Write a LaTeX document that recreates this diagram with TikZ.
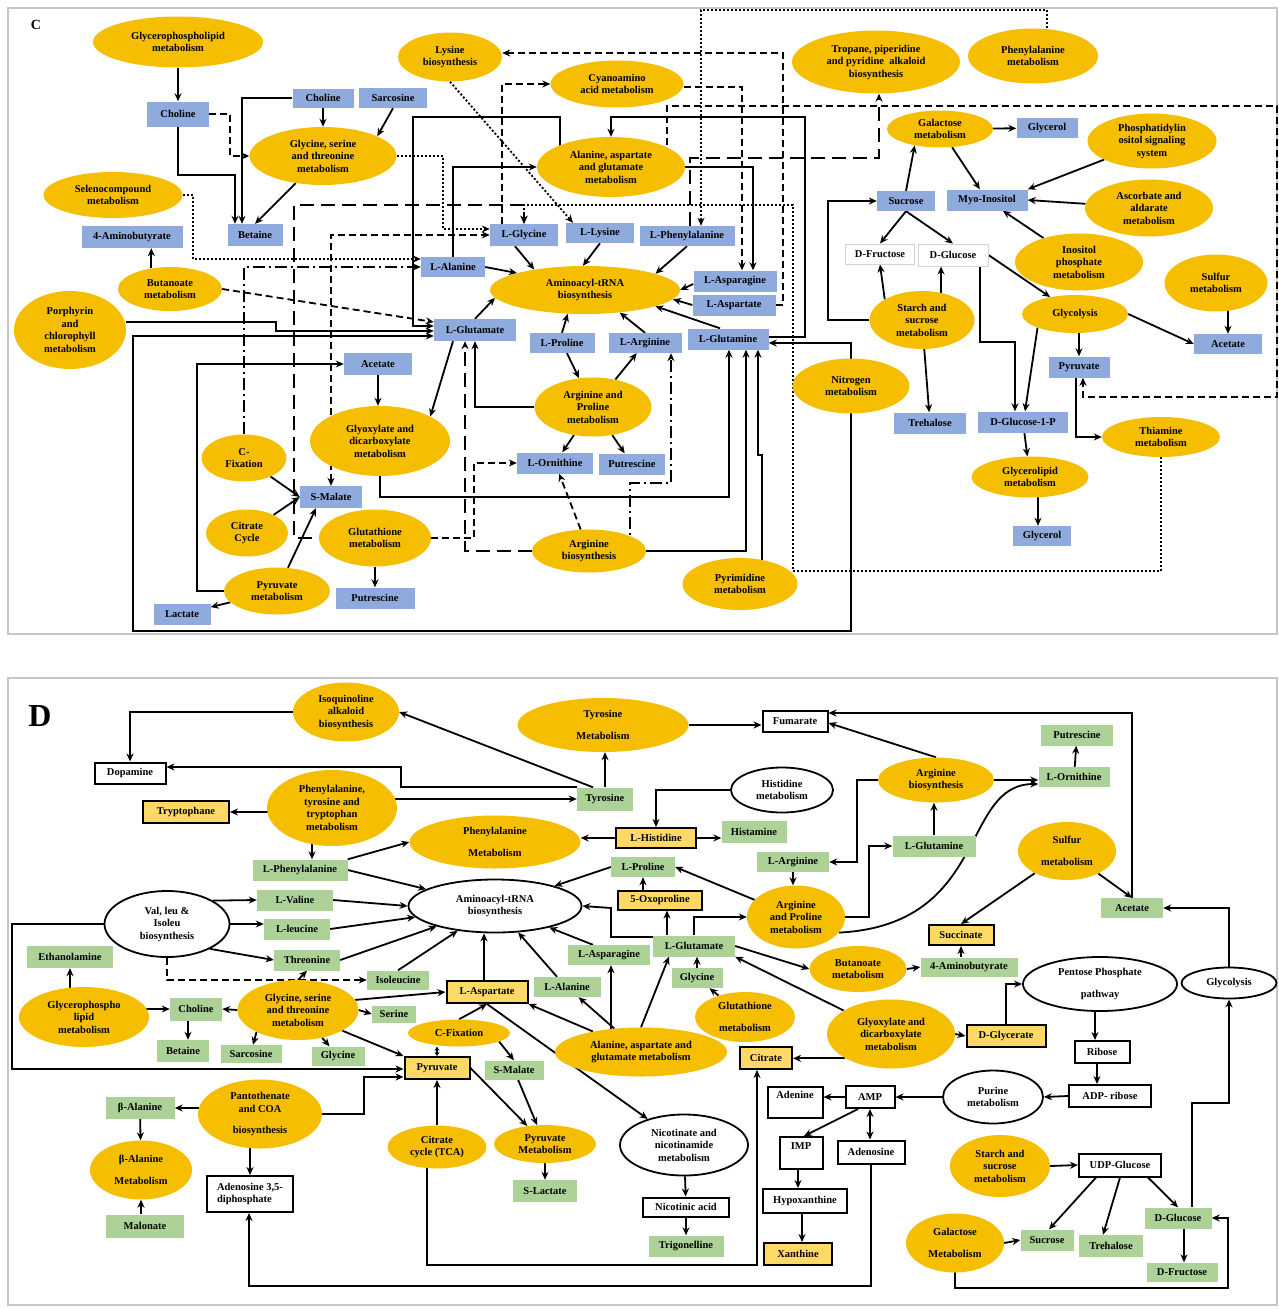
\documentclass[tikz,border=0pt]{standalone}
\usepackage{fontspec}
\setmainfont{Liberation Serif}
\usetikzlibrary{shapes.geometric,arrows.meta}
\pgfdeclarelayer{edges}
\pgfsetlayers{edges,main}
\definecolor{metyel}{RGB}{246,190,0}
\definecolor{cpdblue}{RGB}{143,170,220}
\definecolor{cpdgrn}{RGB}{172,210,152}
\definecolor{cpdyel}{RGB}{255,217,102}
\begin{document}
\begin{tikzpicture}[x=1pt,y=-1pt,
  font=\fontsize{10.5}{12.5}\selectfont\bfseries,
  >={Stealth[length=8pt,width=7pt]},
  sz/.style 2 args={minimum width=#1,minimum height=#2},
  met/.style={ellipse,fill=metyel,inner sep=0pt,align=center},
  wmet/.style={ellipse,draw,line width=1.8pt,fill=white,inner sep=0pt,align=center},
  bbox/.style={rectangle,fill=cpdblue,inner sep=0pt,align=center},
  wbbox/.style={rectangle,draw=gray!35,line width=1pt,fill=white,inner sep=0pt},
  gbox/.style={rectangle,fill=cpdgrn,inner sep=0pt,align=center},
  ybox/.style={rectangle,draw,line width=2pt,fill=cpdyel,inner sep=0pt,align=center},
  wbox/.style={rectangle,draw,line width=2pt,fill=white,inner sep=0pt,align=center},
  dsh/.style={dash pattern=on 7pt off 4pt},
  ldsh/.style={dash pattern=on 14pt off 7pt},
  dshdot/.style={dash pattern=on 12pt off 4pt on 2pt off 4pt},
  dtt/.style={dash pattern=on 2pt off 2pt},
  tinytips/.style={{Stealth[length=4pt,width=5pt]}-{Stealth[length=4pt,width=5pt]}}]
  \useasboundingbox (0,0) rectangle (1279,1309);
  % C 图
  \node[font=\fontsize{14}{14}\selectfont\bfseries] (labc) at (36,25) {C};
  \node[met,sz={170}{51}] (gplc) at (178,42) {Glycerophospholipid\\metabolism};
  \node[met,sz={104}{49}] (lysc) at (450,57) {Lysine\\biosynthesis};
  \node[met,sz={133}{47}] (cyac) at (617,84) {Cyanoamino\\acid metabolism};
  \node[met,sz={147}{58}] (gstc) at (323,156) {Glycine, serine\\and threonine\\metabolism};
  \node[met,sz={148}{60}] (aagc) at (611,167) {Alanine, aspartate\\and glutamate\\metabolism};
  \node[met,sz={168}{63}] (tropc) at (876,62) {Tropane, piperidine\\and pyridine\ \ alkaloid\\biosynthesis};
  \node[met,sz={130}{55}] (phemc) at (1033,56) {Phenylalanine\\metabolism};
  \node[met,sz={106}{37}] (galc) at (940,129) {Galactose\\metabolism};
  \node[met,sz={129}{55}] (pisc) at (1152,141) {Phosphatidylin\\ositol signaling\\system};
  \node[met,sz={128}{57}] (ascc) at (1149,208) {Ascorbate and\\aldarate\\metabolism};
  \node[met,sz={128}{57}] (inoc) at (1079,262) {Inositol\\phosphate\\metabolism};
  \node[met,sz={103}{57}] (sulc) at (1216,283) {Sulfur\\metabolism};
  \node[met,sz={139}{46}] (selc) at (113,195) {Selenocompound\\metabolism};
  \node[met,sz={104}{44}] (butc) at (170,289) {Butanoate\\metabolism};
  \node[met,sz={112}{78}] (porc) at (70,330) {Porphyrin\\and\\chlorophyll\\metabolism};
  \node[met,sz={190}{48}] (trnac) at (585,290) {Aminoacyl-tRNA\\biosynthesis};
  \node[met,sz={105}{58}] (starc) at (922,320) {Starch and\\sucrose\\metabolism};
  \node[met,sz={106}{38}] (glyc) at (1075,314) {Glycolysis};
  \node[met,sz={117}{55}] (nitc) at (851,386) {Nitrogen\\metabolism};
  \node[met,sz={118}{40}] (thic) at (1161,437) {Thiamine\\metabolism};
  \node[met,sz={117}{41}] (glpc) at (1030,477) {Glycerolipid\\metabolism};
  \node[met,sz={117}{59}] (argpc) at (593,407) {Arginine and\\Proline\\metabolism};
  \node[met,sz={140}{70}] (glxc) at (380,441) {Glyoxylate and\\dicarboxylate\\metabolism};
  \node[met,sz={85}{47}] (cfixc) at (244,458) {C-\\Fixation};
  \node[met,sz={82}{47}] (citc) at (247,533) {Citrate\\Cycle};
  \node[met,sz={112}{57}] (gshc) at (375,538) {Glutathione\\metabolism};
  \node[met,sz={106}{47}] (pyrmc) at (277,591) {Pyruvate\\metabolism};
  \node[met,sz={114}{43}] (argbc) at (589,551) {Arginine\\biosynthesis};
  \node[met,sz={115}{52}] (pymc) at (740,584) {Pyrimidine\\metabolism};
  \node[bbox,sz={62}{25}] (cho1c) at (178,114) {Choline};
  \node[bbox,sz={61}{19}] (cho2c) at (323,98) {Choline};
  \node[bbox,sz={68}{20}] (sarc) at (393,98) {Sarcosine};
  \node[bbox,sz={55}{22}] (betc) at (255,235) {Betaine};
  \node[bbox,sz={101}{22}] (gabac) at (132,237) {4-Aminobutyrate};
  \node[bbox,sz={68}{22}] (lglyc) at (524,235) {L-Glycine};
  \node[bbox,sz={68}{20}] (llysc) at (600,233) {L-Lysine};
  \node[bbox,sz={95}{20}] (lphec) at (687,236) {L-Phenylalanine};
  \node[bbox,sz={64}{20}] (lalac) at (453,267) {L-Alanine};
  \node[bbox,sz={83}{21}] (lasnc) at (735,281) {L-Asparagine};
  \node[bbox,sz={83}{21}] (laspc) at (734,305) {L-Aspartate};
  \node[bbox,sz={82}{22}] (lgluc) at (475,330) {L-Glutamate};
  \node[bbox,sz={65}{20}] (lproc) at (562,343) {L-Proline};
  \node[bbox,sz={73}{20}] (largc) at (645,343) {L-Arginine};
  \node[bbox,sz={81}{21}] (lglnc) at (728,339) {L-Glutamine};
  \node[bbox,sz={68}{22}] (acec) at (378,364) {Acetate};
  \node[bbox,sz={62}{22}] (malc) at (331,497) {S-Malate};
  \node[bbox,sz={79}{21}] (putc) at (375,598) {Putrescine};
  \node[bbox,sz={57}{21}] (lacc) at (182,614) {Lactate};
  \node[bbox,sz={76}{21}] (lornc) at (555,463) {L-Ornithine};
  \node[bbox,sz={66}{21}] (put2c) at (632,464) {Putrescine};
  \node[bbox,sz={61}{20}] (glol1c) at (1047,128) {Glycerol};
  \node[bbox,sz={58}{20}] (succ) at (906,201) {Sucrose};
  \node[bbox,sz={81}{21}] (myoc) at (987,200) {Myo-Inositol};
  \node[wbbox,sz={69}{20}] (fruc) at (880,254) {D-Fructose};
  \node[wbbox,sz={70}{22}] (gluc) at (953,255) {D-Glucose};
  \node[bbox,sz={68}{20}] (ace2c) at (1228,344) {Acetate};
  \node[bbox,sz={61}{21}] (pyrc) at (1079,367) {Pyruvate};
  \node[bbox,sz={72}{21}] (trec) at (930,423) {Trehalose};
  \node[bbox,sz={90}{21}] (g1pc) at (1023,422) {D-Glucose-1-P};
  \node[bbox,sz={58}{20}] (glol2c) at (1042,536) {Glycerol};
  % D 图
  \node[font=\fontsize{32}{32}\selectfont\bfseries] (labd) at (40,716) {D};
  \node[met,sz={106}{59}] (isoqd) at (346,712) {Isoquinoline\\alkaloid\\biosynthesis};
  \node[met,sz={171}{54}] (tyrmd) at (603,725) {Tyrosine\\[9pt]Metabolism};
  \node[met,sz={130}{76}] (pttd) at (332,808) {Phenylalanine,\\tyrosine and\\tryptophan\\metabolism};
  \node[met,sz={171}{53}] (phemd) at (495,842) {Phenylalanine\\[9pt]Metabolism};
  \node[met,sz={116}{45}] (argbd) at (936,780) {Arginine\\biosynthesis};
  \node[met,sz={98}{58}] (suld) at (1067,851) {Sulfur\\[9pt]metabolism};
  \node[met,sz={98}{63}] (argpd) at (796,917) {Arginine\\and Proline\\metabolism};
  \node[met,sz={97}{46}] (butd) at (858,969) {Butanoate\\metabolism};
  \node[met,sz={121}{60}] (gstd) at (298,1010) {Glycine, serine\\and threonine\\metabolism};
  \node[met,sz={130}{60}] (gpld) at (84,1017) {Glycerophospho\\lipid\\metabolism};
  \node[met,sz={100}{50}] (gshd) at (745,1017) {Glutathione\\[9pt]metabolism};
  \node[met,sz={128}{69}] (glxd) at (891,1034) {Glyoxylate and\\dicarboxylate\\metabolism};
  \node[met,sz={102}{27}] (cfixd) at (459,1033) {C-Fixation};
  \node[met,sz={172}{49}] (aagd) at (641,1052) {Alanine, aspartate and\\glutamate metabolism};
  \node[met,sz={124}{69}] (pand) at (260,1114) {Pantothenate\\and COA\\[9pt]biosynthesis};
  \node[met,sz={102}{59}] (balmd) at (141,1170) {β-Alanine\\[9pt]Metabolism};
  \node[met,sz={99}{43}] (citd) at (437,1147) {Citrate\\cycle (TCA)};
  \node[met,sz={102}{38}] (pyrmd) at (545,1144) {Pyruvate\\Metabolism};
  \node[met,sz={100}{62}] (stard) at (1000,1166) {Starch and\\sucrose\\metabolism};
  \node[met,sz={98}{59}] (gald) at (955,1243) {Galactose\\[9pt]Metabolism};
  \node[wmet,sz={102}{45}] (hisd) at (782,790) {Histidine\\metabolism};
  \node[wmet,sz={125}{66}] (vlid) at (167,924) {Val, leu \&\\Isoleu\\biosynthesis};
  \node[wmet,sz={173}{53}] (trnad) at (495,906) {Aminoacyl-tRNA\\biosynthesis};
  \node[wmet,sz={154}{54}] (pppd) at (1100,984) {Pentose Phosphate\\[9pt]pathway};
  \node[wmet,sz={95}{31}] (glyd) at (1229,983) {Glycolysis};
  \node[wmet,sz={100}{53}] (purd) at (993,1097) {Purine\\metabolism};
  \node[wmet,sz={128}{61}] (nicd) at (684,1145) {Nicotinate and\\nicotinamide\\metabolism};
  \node[gbox,sz={86}{22}] (ethd) at (70,957) {Ethanolamine};
  \node[gbox,sz={95}{21}] (lphed) at (300,870) {L-Phenylalanine};
  \node[gbox,sz={76}{21}] (lvald) at (295,900) {L-Valine};
  \node[gbox,sz={66}{21}] (lleud) at (297,929) {L-leucine};
  \node[gbox,sz={66}{21}] (thrd) at (307,960) {Threonine};
  \node[gbox,sz={62}{19}] (ileud) at (398,980) {Isoleucine};
  \node[gbox,sz={56}{23}] (tyrd) at (605,799) {Tyrosine};
  \node[gbox,sz={65}{22}] (histd) at (754,832) {Histamine};
  \node[gbox,sz={64}{20}] (lprod) at (643,867) {L-Proline};
  \node[gbox,sz={72}{20}] (largd) at (793,862) {L-Arginine};
  \node[gbox,sz={83}{21}] (lglnd) at (934,846) {L-Glutamine};
  \node[gbox,sz={72}{21}] (putd) at (1077,735) {Putrescine};
  \node[gbox,sz={71}{20}] (lornd) at (1074,777) {L-Ornithine};
  \node[gbox,sz={62}{20}] (aced) at (1132,908) {Acetate};
  \node[gbox,sz={82}{21}] (lglud) at (694,946) {L-Glutamate};
  \node[gbox,sz={82}{20}] (lasnd) at (609,955) {L-Asparagine};
  \node[gbox,sz={51}{20}] (gly1d) at (697,978) {Glycine};
  \node[gbox,sz={67}{20}] (lalad) at (567,987) {L-Alanine};
  \node[gbox,sz={97}{19}] (gabad) at (969,967) {4-Aminobutyrate};
  \node[gbox,sz={52}{23}] (chold) at (196,1009) {Choline};
  \node[gbox,sz={52}{22}] (betd) at (183,1051) {Betaine};
  \node[gbox,sz={61}{18}] (sard) at (251,1054) {Sarcosine};
  \node[gbox,sz={53}{19}] (gly2d) at (338,1056) {Glycine};
  \node[gbox,sz={44}{17}] (serd) at (394,1014) {Serine};
  \node[gbox,sz={59}{19}] (smald) at (514,1070) {S-Malate};
  \node[gbox,sz={64}{22}] (slacd) at (545,1191) {S-Lactate};
  \node[gbox,sz={75}{21}] (trigd) at (686,1246) {Trigonelline};
  \node[gbox,sz={69}{22}] (balad) at (140,1108) {β-Alanine};
  \node[gbox,sz={78}{23}] (malod) at (145,1226) {Malonate};
  \node[gbox,sz={53}{21}] (sucd) at (1047,1240) {Sucrose};
  \node[gbox,sz={64}{22}] (tred) at (1111,1246) {Trehalose};
  \node[gbox,sz={67}{21}] (glcd) at (1178,1218) {D-Glucose};
  \node[gbox,sz={71}{19}] (frud) at (1182,1272) {D-Fructose};
  \node[ybox,sz={86}{22}] (tryd) at (186,812) {Tryptophane};
  \node[ybox,sz={80}{20}] (lhisd) at (656,838) {L-Histidine};
  \node[ybox,sz={84}{19}] (oxod) at (660,900) {5-Oxoproline};
  \node[ybox,sz={65}{20}] (succd) at (961,935) {Succinate};
  \node[ybox,sz={81}{22}] (laspd) at (487,992) {L-Aspartate};
  \node[ybox,sz={65}{22}] (pyrd) at (437,1068) {Pyruvate};
  \node[ybox,sz={52}{22}] (citrd) at (766,1058) {Citrate};
  \node[ybox,sz={79}{22}] (glyrd) at (1006,1036) {D-Glycerate};
  \node[ybox,sz={68}{22}] (xand) at (798,1254) {Xanthine};
  \node[wbox,sz={71}{21}] (dopd) at (130,773) {Dopamine};
  \node[wbox,sz={65}{21}] (fumd) at (795,721) {Fumarate};
  \node[wbox,sz={86}{36},align=left] (ad35d) at (250,1194) {Adenosine 3,5-\\diphosphate};
  \node[wbox,sz={86}{19}] (nicad) at (686,1207) {Nicotinic acid};
  \node[wbox,sz={55}{31},text height=7pt,text depth=14pt] (adend) at (795,1102) {Adenine};
  \node[wbox,sz={43}{32},text height=7pt,text depth=14pt] (impd) at (801,1153) {IMP};
  \node[wbox,sz={84}{24}] (hypd) at (805,1201) {Hypoxanthine};
  \node[wbox,sz={49}{22}] (ampd) at (870,1097) {AMP};
  \node[wbox,sz={67}{23}] (adod) at (871,1152) {Adenosine};
  \node[wbox,sz={55}{22}] (ribd) at (1102,1052) {Ribose};
  \node[wbox,sz={82}{22}] (adprd) at (1110,1096) {ADP- ribose};
  \node[wbox,sz={82}{23}] (udpd) at (1120,1165) {UDP-Glucose};
  \begin{pgfonlayer}{edges}
  \begin{scope}[line width=1.8pt]
    \draw[gray!45,line width=2pt] (8,8) rectangle (1277,634);
    \draw[gray!45,line width=2pt] (8,678) rectangle (1277,1305);
    % C 连线
    \draw[->] (gplc) -- (cho1c);
    \draw[->] (cho1c.south) |- (235,175) -- (235,0 |- betc.north);
    \draw[->] (cho2c.west) -| (242,0 |- betc.north);
    \draw[->] (cho2c) -- (gstc);
    \draw[->] (sarc.south) -- (gstc.20);
    \draw[->] (gstc) -- (betc.north);
    \draw[->,dsh] (cho1c.east) -- (230,0 |- cho1c.east) |- (gstc.west);
    \draw[->,dtt] (gstc.east) -- (443,0 |- gstc.east) |- ([yshift=6pt]lglyc.west);
    \draw[->,dtt] (selc.east) -| (193,259) -- ([yshift=8pt]lalac.west);
    \draw[->] (butc.132) -- (butc.132 |- gabac.south);
    \draw[->,dsh] (butc.east) -- ([yshift=8pt]lgluc.west);
    \draw[->] (560,0 |- aagc.center) |- (413,117) |- ([yshift=4pt]lgluc.west);
    \draw[->] ([yshift=8pt]porc.east) -| (276,331) -- ([yshift=-1pt]lgluc.west);
    \draw[->] (nitc.center) |- (133,631) |- ([yshift=-6pt]lgluc.west);
    \draw[->] (nitc.center) |- ([yshift=-4pt]lglnc.east);
    \draw[->] (lalac.north) |- (aagc.west);
    \draw[->] (aagc.east) -| ([xshift=18pt]lasnc.north);
    \draw[->] ([yshift=2pt]lglnc.east) -| (805,117) -| (aagc.north);
    \draw[->] ([xshift=-9pt]lglyc.south) -- (trnac.158);
    \draw[->] (llysc.south) -- (trnac.95);
    \draw[->] (lphec.south) -- (trnac.13);
    \draw[->] (lalac.east) -- (trnac.166);
    \draw[->] ([yshift=-3pt]lasnc.west) -- (trnac.east);
    \draw[->] (laspc.west) -- (trnac.-6);
    \draw[->] ([xshift=-8pt]lglnc.north) -- (trnac.-13);
    \draw[->] (largc.north) -- (trnac.-33);
    \draw[->] (lproc.north) -- (trnac.-126);
    \draw[->] (lgluc.north) -- (trnac.185);
    \draw[->,dsh] (laspc.east) -- (783,0 |- laspc.east) |- ([yshift=4pt]lysc.east);
    \draw[->,dsh] ([yshift=-3pt]cyac.east) -| ([xshift=7pt]lasnc.north);
    \draw[->,dsh] ([xshift=-22pt]lglyc.north) |- (cyac.west);
    \draw[->,dsh] (667,0 |- aagc.center) |- (1277,106) |- (1083,397) -- ([xshift=4pt]pyrc.south);
    \draw[->,ldsh] (690,0 |- lphec.north) |- (879,158) -- (879,0 |- tropc.south);
    \draw[->,dtt] (1047,0 |- phemc.center) |- (701,10) -- (701,0 |- lphec.north);
    \draw[->,dtt] (lysc.south) -- ([xshift=-27pt]llysc.north);
    \draw[->,dtt] (thic.center) |- (793,571) |- (524,205) -- (lglyc.north);
    \draw[->,ldsh] (gshc.center) -| (294,205) -| (lglyc.north);
    \draw[<->,dsh] (malc.north) |- (lglyc.west);
    \draw[->,dshdot] (cfixc.north) |- (lalac.west);
    \draw[->,dshdot] (630,0 |- argbc.center) |- (671,483) -- (671,0 |- largc.south);
    \draw[->,ldsh] (argbc.west) -| ([xshift=-10pt]lgluc.south);
    \draw[->,dsh] (gshc.east) -- (474,0 |- gshc.east) |- (lornc.west);
    \draw[->,dsh] (argbc) -- (lornc);
    \draw[->] (argpc.west) -| (lgluc.south);
    \draw[->] (lproc) -- (argpc);
    \draw[->] (argpc) -- (largc);
    \draw[->] (argpc) -- (lornc);
    \draw[->] (argpc) -- (put2c);
    \draw[->] (glxc.center) |- (729,497) -- (729,0 |- lglnc.south);
    \draw[->] (argbc.east) -| ([xshift=18pt]lglnc.south);
    \draw[->] ([xshift=22pt]pymc.center) |- (758,455) -- (758,0 |- lglnc.south);
    \draw[->] ([xshift=-22pt]lgluc.south) -- (glxc.26);
    \draw[->] (acec.south) -- (acec.south |- glxc.north);
    \draw[->] (pyrmc.west) -- (197,0 |- pyrmc.west) |- (acec.west);
    \draw[->] (cfixc) -- (malc.west);
    \draw[->] (citc) -- (malc.west);
    \draw[->] (pyrmc) -- ([xshift=-15pt]malc.south);
    \draw[->] (pyrmc) -- (lacc);
    \draw[->] (gshc) -- (putc);
    \draw[->] (galc) -- (glol1c);
    \draw[->] (succ.north) -- (galc.213);
    \draw[->] (galc) -- (myoc);
    \draw[->] (pisc) -- (myoc.north east);
    \draw[->] (ascc) -- (myoc.east);
    \draw[->] (inoc) -- (myoc);
    \draw[->] (succ.south) -- (fruc.north);
    \draw[->] (succ.south) -- (gluc.north);
    \draw[->] (starc.151) -- (fruc.south);
    \draw[->] (starc.55) -- (starc.55 |- gluc.south);
    \draw[->] (starc.west) -- (828,0 |- starc.west) |- (succ.west);
    \draw[->] (gluc.east) -- (glyc);
    \draw[->] ([xshift=27pt]gluc.south) |- (1015,342) -- (1015,0 |- g1pc.north);
    \draw[->] (glyc.200) -- ([xshift=2pt]g1pc.north);
    \draw[->] (pyrc.north |- glyc.south) -- (pyrc.north);
    \draw[->] (glyc.east) -- (ace2c.west);
    \draw[->] (1228,0 |- sulc.center) -- (ace2c.north);
    \draw[->] (starc) -- (trec);
    \draw[->] ([xshift=-3pt]pyrc.south) |- (thic.west);
    \draw[->] (g1pc) -- (glpc);
    \draw[->] (1038,0 |- glpc.center) -- (1038,0 |- glol2c.north);
    % D 连线
    \draw[->] ([xshift=-12pt]tyrd.north) -- (isoqd.east);
    \draw[->] (isoqd.west) -| (dopd.north);
    \draw[->] (tyrd.north west) -| (401,767) -- ([yshift=6pt]dopd.east);
    \draw[->] (pttd.center |- tyrd.west) -- (tyrd.west);
    \draw[->] (tyrd.north) -- (tyrd.north |- tyrmd.south);
    \draw[->] (tyrmd.east) -- (tyrmd.east -| fumd.west);
    \draw[->] (argbd.north) -- ([yshift=-2pt]fumd.east);
    \draw[->] (aced.north) |- ([yshift=8pt]fumd.east);
    \draw[->] (argbd.east) -- (argbd.east -| lornd.west);
    \draw[->] (lornd) -- (putd);
    \draw[->] (lglnd.north) -- (lglnd.north |- argbd.south);
    \draw[->] (argbd.west) -- (857,0 |- argbd.west) |- (largd.east);
    \draw[->] (argpd.east) -- (869,0 |- argpd.east) |- (lglnd.west);
    \draw[->] (argpd.-20) .. controls (990,925) and (960,784) .. ([yshift=-7pt]lornd.west);
    \draw[->] (largd.south) -- (largd.south |- argpd.north);
    \draw[->] (argpd) -- (lprod.east);
    \draw[->] (lprod.south |- oxod.north) -- (lprod.south);
    \draw[->] (667,0 |- lglud.north) -- (667,0 |- oxod.south);
    \draw[->] (lglud.north) |- (argpd.west);
    \draw[->] ([yshift=9pt]lglud.west) -| (611,908) -- (trnad.east);
    \draw[->] (lglud.east) -- (butd.west);
    \draw[->] (glxd) -- (lglud.south east);
    \draw[->] (gly1d.north) -- (gly1d.north |- lglud.south);
    \draw[->] (gshd) -- (gly1d);
    \draw[->] (lprod.west) -- (trnad);
    \draw[->] (lhisd.west) -- (lhisd.west -| phemd.east);
    \draw[->] (lhisd.east) -- (lhisd.east -| histd.west);
    \draw[->] (hisd.west) -| (lhisd.north);
    \draw[->] (pttd.center |- tryd.east) -- (tryd.east);
    \draw[->] (312,0 |- pttd.center) -- (312,0 |- lphed.north);
    \draw[->] (lphed.north east) -- (phemd.west);
    \draw[->] (lphed.east) -- (trnad);
    \draw[->] (lvald.east) -- (trnad.west);
    \draw[->] (lleud.east) -- (trnad);
    \draw[->] (thrd.east) -- (trnad);
    \draw[->] (ileud.north) -- (trnad);
    \draw[->] (vlid.27) -- (lvald.west);
    \draw[->] (vlid.east) -- (vlid.east -| lleud.west);
    \draw[->] (vlid.-30) -- (thrd.west);
    \draw[->,dsh] (vlid.south) |- (ileud.west);
    \draw[->] (gstd.north) -- (thrd.south);
    \draw[->] (vlid.west) -- (12,0 |- vlid.west) |- ([yshift=-1pt]pyrd.west);
    \draw[->] (70,0 |- gpld.center) -- (70,0 |- ethd.south);
    \draw[->] (gpld.center |- chold.west) -- (chold.west);
    \draw[->] (gstd.west) -- (chold.east);
    \draw[->] (188,0 |- chold.south) -- (188,0 |- betd.north);
    \draw[->] (gstd.208) -- ([xshift=2pt]sard.north);
    \draw[->] (gstd) -- (gly2d);
    \draw[->] (gstd.east) -- (serd.west);
    \draw[->] (gstd.-25) -- (pyrd.north west);
    \draw[->] (gstd.10) -- (laspd.west);
    \draw[->] (pand.east) -- (364,0 |- pand.east) |- ([yshift=-9pt]pyrd.west);
    \draw[->] (balad.east -| pand.center) -- (balad.east);
    \draw[->] (balad) -- (balmd);
    \draw[->] (balmd.south |- malod.north) -- (balmd.south);
    \draw[->] (250,0 |- pand.center) -- (250,0 |- ad35d.north);
    \draw[->] (adod.south) |- (249,1286) -- (249,0 |- ad35d.south);
    \draw[->] (427,0 |- citd.center) |- (757,1265) -- (757,0 |- citrd.south);
    \draw[->] (citd.north) -- (pyrd.south);
    \draw[tinytips] (437,0 |- cfixd.south) -- (pyrd.north);
    \draw[->] (cfixd.north) -- (laspd.south);
    \draw[->] (cfixd.-12) -- (smald.north);
    \draw[->] (smald) -- (pyrmd);
    \draw[->] (pyrd.east) -- (pyrmd);
    \draw[->] (pyrmd) -- (slacd);
    \draw[->] (laspd.south) -- (nicd);
    \draw[->] (aagd) -- (laspd.south east);
    \draw[->] (aagd) -- (lalad);
    \draw[->] (611,0 |- aagd.center) -- (611,0 |- lasnd.south);
    \draw[->] (aagd.north) -- ([xshift=-25pt]lglud.south);
    \draw[->] (484,0 |- laspd.north) -- (484,0 |- trnad.south);
    \draw[->] ([xshift=-10pt]lalad.north) -- (trnad);
    \draw[->] ([xshift=-16pt]lasnd.north) -- (trnad);
    \draw[->] (nicd) -- (nicad);
    \draw[->] (nicad) -- (trigd);
    \draw[->] (glxd.208) -- (glxd.208 -| citrd.east);
    \draw[->] (glxd.east) -- (glyrd.west);
    \draw[->] (glyrd.north) |- (pppd.west);
    \draw[->] (1095,0 |- pppd.center) -- (1095,0 |- ribd.north);
    \draw[->] (1097,0 |- ribd.south) -- (1097,0 |- adprd.north);
    \draw[->] (adprd.west) -- (purd.east);
    \draw[->] (purd.west) -- (ampd.east);
    \draw[->] (ampd.west) -- (ampd.west -| adend.east);
    \draw[->] ([xshift=-12pt]ampd.south) -- ([xshift=3pt]impd.north);
    \draw[<->] (ampd.south) -- (ampd.south |- adod.north);
    \draw[->] (798,0 |- impd.south) -- (798,0 |- hypd.north);
    \draw[->] (802,0 |- hypd.south) -- (802,0 |- xand.north);
    \draw[->] (suld) -- (succd.north);
    \draw[->] (suld) -- (aced.north);
    \draw[->] (961,0 |- gabad.north) -- (961,0 |- succd.south);
    \draw[->] (butd.east) -- (gabad.west);
    \draw[->] (glyd.north) |- (aced.east);
    \draw[->] ([xshift=14pt]glcd.north) |- (1229,1103) -- (glyd.south);
    \draw[->] (stard.east) -- (udpd.west);
    \draw[->] ([xshift=-24pt]udpd.south) -- ([xshift=2pt]sucd.north);
    \draw[->] (udpd.south) -- ([xshift=-8pt]tred.north);
    \draw[->] ([xshift=28pt]udpd.south) -- (glcd.north);
    \draw[->] (gald.east) -- (sucd.west);
    \draw[->] (1184,0 |- glcd.south) -- (1184,0 |- frud.north);
    \draw[->] (gald.center) |- (1228,1288) |- (glcd.east);
  \end{scope}
  \end{pgfonlayer}
\end{tikzpicture}
\end{document}
